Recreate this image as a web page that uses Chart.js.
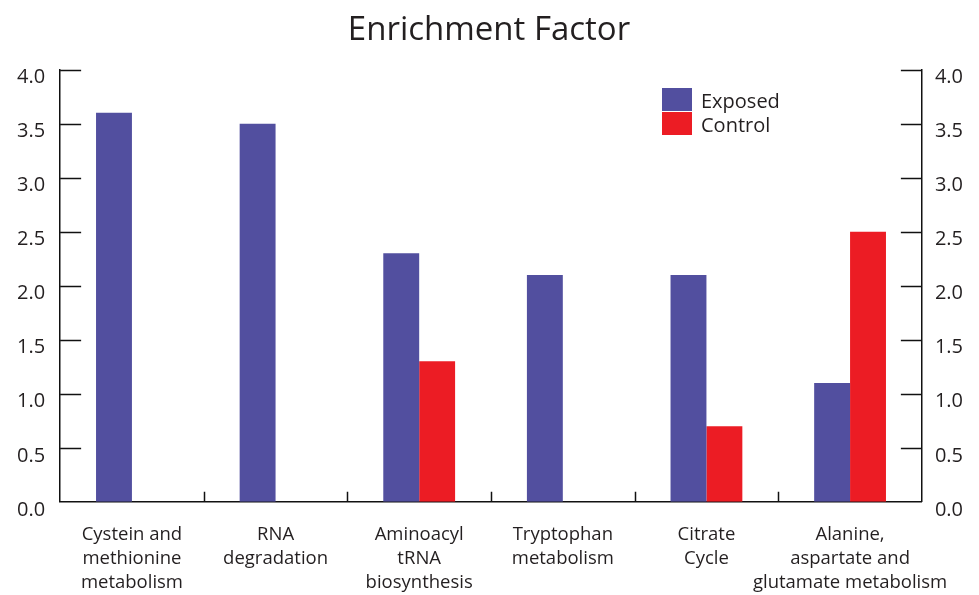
<!DOCTYPE html>
<html>
<head>
<meta charset="utf-8">
<script src="https://cdn.jsdelivr.net/npm/chart.js@4.4.0/dist/chart.umd.min.js"></script>
<style>
  html, body { margin: 0; padding: 0; background: #fff; }
  #wrap { width: 979px; height: 595px; position: relative; }
</style>
</head>
<body>
<div id="wrap"><canvas id="chart"></canvas></div>
<script>
// data
const categories = [
    ['Cystein and', 'methionine', 'metabolism'],
    ['RNA', 'degradation'],
    ['Aminoacyl', 'tRNA', 'biosynthesis'],
    ['Tryptophan', 'metabolism'],
    ['Citrate', 'Cycle'],
    ['Alanine,', 'aspartate and', 'glutamate metabolism'],
];
const exposed = [3.6, 3.5, 2.3, 2.1, 2.1, 1.1];
const control = [0, 0, 1.3, 0, 0.7, 2.5];
const seriesNames = ['Exposed', 'Control'];
const seriesColors = ['#524f9f', '#ec1c24'];
const yMin = 0, yMax = 4, yStep = 0.5;

const FONT = '"Open Sans", "Noto Sans", sans-serif';

// inward ticks on both y axes + small ticks between categories + inset legend
const axisDecor = {
    id: 'axisDecor',
    afterDraw(chart) {
        const ctx = chart.ctx;
        const area = chart.chartArea;
        const y = chart.scales.y;
        const x = chart.scales.x;
        ctx.save();
        ctx.strokeStyle = '#111';
        ctx.lineWidth = 1.5;
        ctx.beginPath();
        y.ticks.forEach(t => {
            if (t.value === yMin) return;
            const py = Math.round(y.getPixelForValue(t.value)) + 0.5;
            ctx.moveTo(area.left, py); ctx.lineTo(area.left + 21, py);
            ctx.moveTo(area.right, py); ctx.lineTo(area.right - 21, py);
        });
        for (let i = 1; i < categories.length; i++) {
            const px = Math.round((x.getPixelForTick(i - 1) + x.getPixelForTick(i)) / 2) + 0.5;
            ctx.moveTo(px, area.bottom); ctx.lineTo(px, area.bottom - 10);
        }
        ctx.stroke();

        // legend
        const lx = 662, ly = 88, bw = 30, bh = 23;
        chart.data.datasets.forEach((ds, i) => {
            ctx.fillStyle = ds.backgroundColor;
            ctx.fillRect(lx, ly + i * (bh + 1), bw, bh);
            ctx.fillStyle = '#231f20';
            ctx.font = '20px ' + FONT;
            ctx.textBaseline = 'middle';
            ctx.textAlign = 'left';
            ctx.fillText(ds.label, lx + 39, ly + i * (bh + 1) + bh / 2 + 3);
        });
        ctx.restore();
    }
};

const yTicks = {
    stepSize: yStep,
    color: '#231f20',
    font: { family: FONT, size: 20 },
    labelOffset: 8,
    callback: v => Number(v).toFixed(1),
};

new Chart(document.getElementById('chart'), {
    type: 'bar',
    data: {
        labels: categories,
        datasets: [
            { label: seriesNames[0], data: exposed, backgroundColor: seriesColors[0] },
            { label: seriesNames[1], data: control, backgroundColor: seriesColors[1] },
        ],
    },
    options: {
        responsive: true,
        maintainAspectRatio: false,
        animation: false,
        datasets: { bar: { barPercentage: 1, categoryPercentage: 0.5 } },
        layout: { padding: { left: 2, right: 3, top: 0, bottom: -21 } },
        plugins: {
            legend: { display: false },
            tooltip: { enabled: false },
            title: {
                display: true,
                text: 'Enrichment Factor',
                color: '#231f20',
                font: { family: FONT, size: 33, weight: 'normal' },
                padding: { top: 11, bottom: 19 },
            },
        },
        scales: {
            x: {
                grid: { display: false, drawTicks: false },
                border: { display: true, color: '#111', width: 1.5 },
                ticks: {
                    color: '#231f20',
                    font: { family: FONT, size: 18.5, lineHeight: 1.3 },
                    padding: 21,
                    maxRotation: 0,
                    autoSkip: false,
                },
            },
            y: {
                position: 'left',
                min: yMin, max: yMax,
                grid: { display: false, drawTicks: false },
                border: { display: true, color: '#111', width: 1.5 },
                ticks: Object.assign({ padding: 15 }, yTicks),
            },
            y2: {
                position: 'right',
                min: yMin, max: yMax,
                grid: { display: false, drawTicks: false },
                border: { display: true, color: '#111', width: 1.5 },
                ticks: Object.assign({ padding: 13 }, yTicks),
            },
        },
    },
    plugins: [axisDecor],
});
</script>
</body>
</html>
